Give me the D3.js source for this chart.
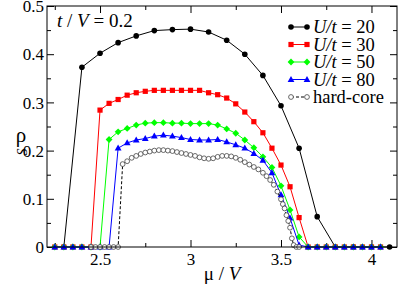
<!DOCTYPE html>
<html><head><meta charset="utf-8">
<script src="https://cdn.jsdelivr.net/npm/d3@7"></script>
<style>
html,body{margin:0;padding:0;background:#fff;}
svg{display:block;}
svg text{font-family:"Liberation Serif","DejaVu Serif","Times New Roman",Times,serif !important;}
</style></head>
<body>
<svg id="chart" width="399" height="285"></svg>
<script>
// ---- data ----
const muCoarse = [2.3,2.4,2.5,2.6,2.7,2.8,2.9,3.0,3.1,3.2,3.3,3.4,3.5,3.6,3.7,3.8,3.9,4.0,4.1];
const rhoU20 = [0,0.373,0.402,0.424,0.438,0.449,0.451,0.452,0.446,0.429,0.400,0.356,0.293,0.205,0.063,0,0,0,0];

const muFine = [2.25,2.3,2.35,2.4,2.45,2.5,2.55,2.6,2.65,2.7,2.75,2.8,2.85,2.9,2.95,3.0,3.05,3.1,3.15,3.2,3.25,3.3,3.35,3.4,3.45,3.5,3.55,3.6,3.65,3.7,3.75,3.8,3.85,3.9,3.95,4.0,4.05];
const rhoU30 = [0,0,0,0,0,0.284,0.298,0.306,0.315,0.320,0.323,0.325,0.325,0.325,0.325,0.325,0.325,0.320,0.316,0.309,0.297,0.280,0.260,0.237,0.205,0.170,0.125,0.061,0,0,0,0,0,0,0,0,0];
const rhoU50 = [0,0,0,0,0,0,0.223,0.239,0.246,0.253,0.257,0.258,0.258,0.257,0.257,0.256,0.256,0.256,0.253,0.245,0.236,0.222,0.206,0.187,0.165,0.127,0.077,0.021,0,0,0,0,0,0,0,0,0];
const rhoU80 = [0,0,0,0,0,0,0,0.205,0.216,0.222,0.225,0.230,0.232,0.230,0.227,0.223,0.222,0.222,0.223,0.218,0.212,0.205,0.194,0.180,0.154,0.108,0.060,0.004,0,0,0,0,0,0,0,0,0];

const muHC = [2.45,2.475,2.5,2.525,2.55,2.575,2.6,2.625,2.65,2.675,2.7,2.725,2.75,2.775,2.8,2.825,2.85,2.875,2.9,2.925,2.95,2.975,3.0,3.025,3.05,3.075,3.1,3.125,3.15,3.175,3.2,3.225,3.25,3.275,3.3,3.325,3.35,3.375,3.4,3.42,3.44,3.46,3.48,3.5,3.51,3.52,3.53,3.54,3.55,3.56,3.57,3.585,3.6];
const rhoHC = [0,0,0,0,0,0,0,0.172,0.178,0.185,0.189,0.193,0.196,0.198,0.200,0.201,0.201,0.200,0.199,0.197,0.195,0.193,0.191,0.189,0.186,0.184,0.183,0.184,0.187,0.189,0.189,0.188,0.185,0.181,0.176,0.171,0.166,0.161,0.154,0.147,0.139,0.129,0.115,0.099,0.089,0.080,0.066,0.054,0.040,0.018,0.004,0,0];

const xMajorTicks = [2.5,3,3.5,4];
const xMinorTicks = [2.25,2.75,3.25,3.75];
const yMajorTicks = [0,0.1,0.2,0.3,0.4,0.5];
const yMinorTicks = [0.05,0.15,0.25,0.35,0.45];
const xTickLabels = ["2.5","3","3.5","4"];
const yTickLabels = ["0","0.1","0.2","0.3","0.4","0.5"];
const legendNames = ["20","30","50","80","hard-core"];

// ---- layout ----
const FONT = '"Liberation Serif","DejaVu Serif","Times New Roman",Times,serif';
const L = 47, R = 397, T = 6, B = 247;
const svg = d3.select("#chart");
const x = d3.scaleLinear().domain([2.207, 4.141]).range([L, R]);
const y = d3.scaleLinear().domain([0, 0.5]).range([B, T]);

function addAxis(gen, tx, ty, vals, size, labels) {
  const a = gen.tickValues(vals).tickSize(-size).tickPadding(5);
  if (labels) a.tickFormat((d,i)=>labels[i]); else a.tickFormat("");
  const g = svg.append("g").attr("transform", `translate(${tx},${ty})`).call(a);
  g.attr("font-family", FONT);
  g.select(".domain").remove();
  g.selectAll(".tick line").attr("stroke", "#000").attr("stroke-width", 1);
  g.selectAll("text").attr("font-size", 17).attr("fill", "#000");
  return g;
}
addAxis(d3.axisBottom(x), 0, B, xMajorTicks, 7, xTickLabels).selectAll("text").attr("dy", null).attr("y", 18);
addAxis(d3.axisBottom(x), 0, B, xMinorTicks, 4, null);
addAxis(d3.axisTop(x), 0, T, xMajorTicks, 7, null);
addAxis(d3.axisTop(x), 0, T, xMinorTicks, 4, null);
addAxis(d3.axisLeft(y), L, 0, yMajorTicks, 7, yTickLabels).selectAll("text").attr("x", -3).attr("dy", "0.33em");
addAxis(d3.axisLeft(y), L, 0, yMinorTicks, 4, null);
addAxis(d3.axisRight(y), R, 0, yMajorTicks, 7, null);
addAxis(d3.axisRight(y), R, 0, yMinorTicks, 4, null);

function marker(g, type, cx, cy, color) {
  if (type === "circle") g.append("circle").attr("cx", cx).attr("cy", cy).attr("r", 2.8).attr("fill", color);
  else if (type === "square") g.append("rect").attr("x", cx-2.6).attr("y", cy-2.6).attr("width", 5.2).attr("height", 5.2).attr("fill", color);
  else if (type === "diamond") g.append("path").attr("d", `M${cx},${cy-3.4}L${cx+3.4},${cy}L${cx},${cy+3.4}L${cx-3.4},${cy}Z`).attr("fill", color);
  else if (type === "triangle") g.append("path").attr("d", `M${cx},${cy-3.6}L${cx+3.4},${cy+2.4}L${cx-3.4},${cy+2.4}Z`).attr("fill", color);
  else if (type === "open") g.append("circle").attr("cx", cx).attr("cy", cy).attr("r", 2.4).attr("fill", "#fff").attr("stroke", "#444").attr("stroke-width", 0.8);
}

const series = [
  {mu: muCoarse, rho: rhoU20, color: "#000", type: "circle", dash: null},
  {mu: muFine, rho: rhoU30, color: "#ff0000", type: "square", dash: null},
  {mu: muFine, rho: rhoU50, color: "#00ff00", type: "diamond", dash: null},
  {mu: muFine, rho: rhoU80, color: "#0000ff", type: "triangle", dash: null},
  {mu: muHC, rho: rhoHC, color: "#000", type: "open", dash: "3,2"}
];

const line = d3.line().x(d=>x(d[0])).y(d=>y(d[1]));
series.forEach(s => {
  const pts = s.mu.map((m,i)=>[m, s.rho[i]]);
  const g = svg.append("g");
  g.append("path").attr("d", line(pts)).attr("fill", "none").attr("stroke", s.color)
    .attr("stroke-width", 1).attr("stroke-dasharray", s.dash);
  pts.forEach(p => marker(g, s.type, x(p[0]), y(p[1]), s.color));
});

svg.append("rect").attr("x", L).attr("y", T).attr("width", R-L).attr("height", B-T)
  .attr("fill", "none").attr("stroke", "#000").attr("stroke-width", 1);

// legend
const lg = svg.append("g").attr("font-family", FONT);
series.forEach((s, i) => {
  const yy = 27 + i*17.5;
  lg.append("line").attr("x1", 291).attr("x2", 307).attr("y1", yy).attr("y2", yy)
    .attr("stroke", s.color).attr("stroke-width", 1).attr("stroke-dasharray", s.dash);
  marker(lg, s.type, 291, yy, s.color);
  marker(lg, s.type, 307, yy, s.color);
  const t = lg.append("text").attr("x", 313).attr("y", yy + 6).attr("font-size", 18.5).attr("fill", "#000");
  if (i < 4) {
    t.append("tspan").attr("font-style", "italic").text("U/t");
    t.append("tspan").text(" = " + legendNames[i]);
  } else {
    t.text(legendNames[i]);
  }
});

const ann = svg.append("text").attr("x", 57).attr("y", 27).attr("font-size", 19).attr("fill", "#000").attr("font-family", FONT);
ann.append("tspan").attr("font-style", "italic").text("t");
ann.append("tspan").text(" / ");
ann.append("tspan").attr("font-style", "italic").text("V");
ann.append("tspan").text(" = 0.2");

const xt = svg.append("text").attr("x", 222).attr("y", 280).attr("text-anchor", "middle").attr("font-size", 19).attr("fill", "#000").attr("font-family", FONT);
xt.append("tspan").text("μ / ");
xt.append("tspan").attr("font-style", "italic").text("V");

// y title: rho with rotated subscript S
svg.append("text").attr("x", 21).attr("y", 142).attr("text-anchor", "middle").attr("font-size", 21).attr("fill", "#000").attr("font-family", FONT).text("ρ");
svg.append("text").attr("transform", "translate(27,152) rotate(-90)").attr("text-anchor", "middle").attr("font-size", 14).attr("font-style", "italic").attr("fill", "#000").attr("font-family", FONT).text("S");
</script>
</body></html>
